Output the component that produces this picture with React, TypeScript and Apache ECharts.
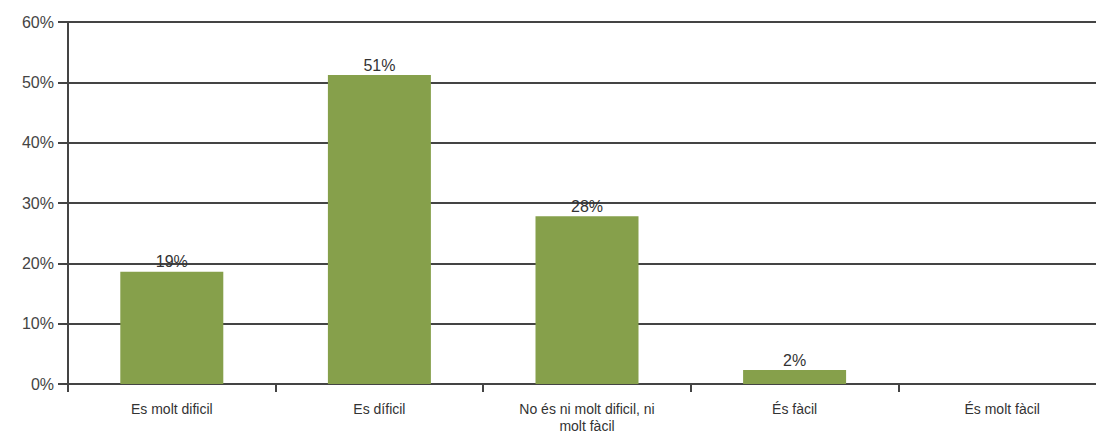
import React, { useEffect, useRef } from "react";
import * as echarts from "echarts";

const categories = [
  "Es molt dificil",
  "Es díficil",
  "No és ni molt dificil, ni\nmolt fàcil",
  "És fàcil",
  "És molt fàcil",
];
const values = [18.6, 51.2, 27.8, 2.3, 0];
const yTicks = [0, 10, 20, 30, 40, 50, 60];

export default function App() {
  const ref = useRef<HTMLDivElement>(null);
  useEffect(() => {
    if (!ref.current) return;
    const chart = echarts.init(ref.current, undefined, { renderer: "svg" });
    const font = "Liberation Sans, Arial, sans-serif";
    chart.setOption({
      animation: false,
      grid: { left: 68, right: 0, top: 22, bottom: 52 },
      xAxis: {
        type: "category",
        data: categories,
        axisLine: { show: true, lineStyle: { color: "#444", width: 2 } },
        axisTick: { show: true, length: 8, lineStyle: { color: "#444", width: 2 } },
        axisLabel: { color: "#333", fontSize: 14, fontFamily: font, margin: 16, lineHeight: 17, interval: 0 },
      },
      yAxis: {
        type: "value",
        min: yTicks[0],
        max: yTicks[yTicks.length - 1],
        interval: 10,
        axisLine: { show: true, lineStyle: { color: "#444", width: 2 } },
        axisTick: { show: true, length: 10, lineStyle: { color: "#444", width: 2 } },
        splitLine: { show: true, lineStyle: { color: "#444", width: 2 } },
        axisLabel: { color: "#444", fontSize: 16, fontFamily: font, margin: 14, formatter: (v: number) => v + "%" },
      },
      series: [
        {
          type: "bar",
          data: values,
          barWidth: 103,
          itemStyle: { color: "#86A04B" },
          label: {
            show: true,
            position: "top",
            distance: 2,
            color: "#333",
            fontSize: 16,
            fontFamily: font,
            formatter: (p: any) => (p.value > 0 ? Math.round(p.value) + "%" : ""),
          },
        },
      ],
    });
    return () => chart.dispose();
  }, []);
  return (
    <div
      style={{ position: "fixed", left: 0, top: 0, width: 1096, height: 436, overflow: "hidden", background: "#fff" }}
    >
      <div ref={ref} style={{ width: 1106, height: 436 }} />
    </div>
  );
}
